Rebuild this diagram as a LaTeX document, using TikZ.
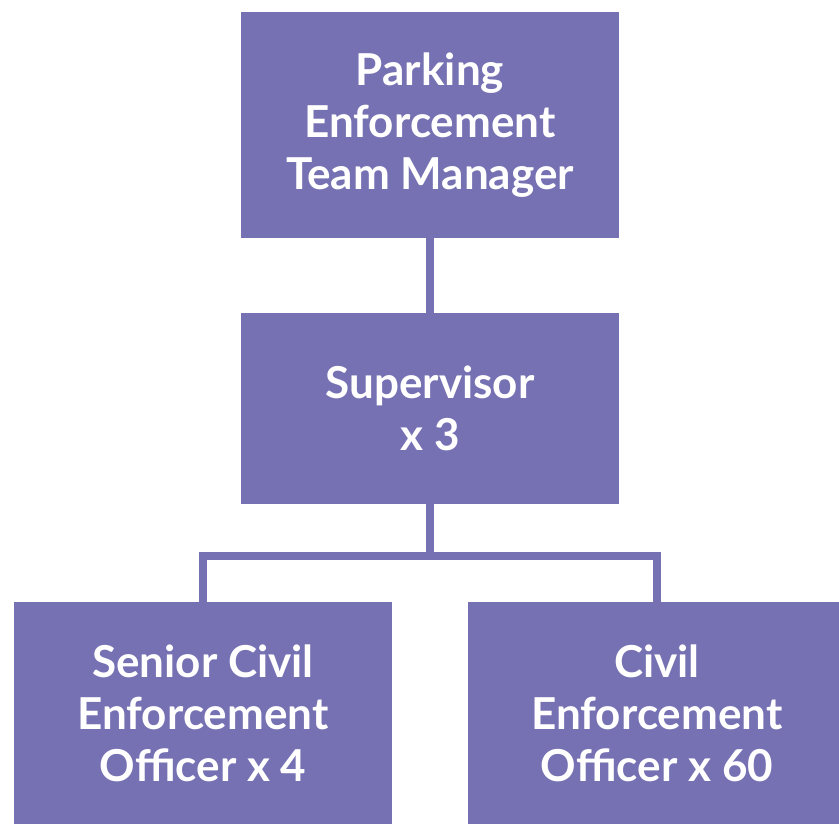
\documentclass[tikz,border=0pt]{standalone}
\usepackage{fontspec}
\setmainfont{Lato}
\usetikzlibrary{positioning}
\definecolor{teampurple}{RGB}{118,113,179}

\begin{document}
\begin{tikzpicture}[x=1pt, y=1pt,
  role/.style = {fill = teampurple, shape = rectangle, minimum width = 378pt, text = white, align = center, inner sep = 0pt, font = \bfseries\fontsize{44}{52}\selectfont},
  link/.style = {draw = teampurple, line width = 8pt}]
\clip (0,0) rectangle (839,-824);
\node[role, minimum height = 226pt] (manager) at (430,-125) {Parking\\Enforcement\\Team Manager};
\node[role, minimum height = 191pt] (super) at (430,-408.5) {Supervisor\\x 3};
\node[role, minimum height = 222pt] (senior) at (203,-713) {Senior Civil\\Enforcement\\Officer x 4};
\node[role, minimum height = 222pt] (civil) at (657,-713) {Civil\\Enforcement\\Officer x 60};
\coordinate (fork) at (430,-556);
\draw[link] (manager) -- (super);
\draw[link] (super) -- (fork);
\draw[link] (senior.north) |- (fork) -| (civil.north);
\end{tikzpicture}
\end{document}
